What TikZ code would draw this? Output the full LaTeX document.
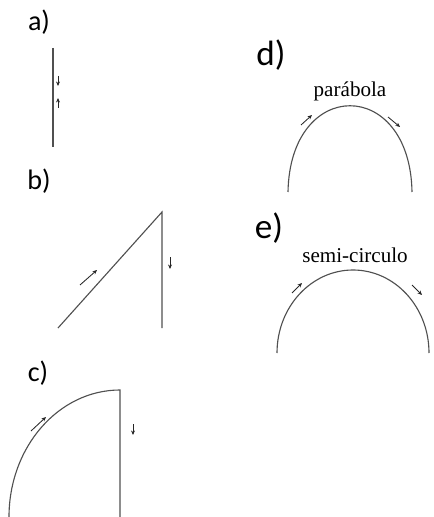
\documentclass[tikz,border=0pt]{standalone}
\usepackage{fontspec}
\setmainfont{Liberation Serif}
\newfontfamily\labelfont{Carlito}
\usetikzlibrary{arrows.meta}
\definecolor{CurveColor}{RGB}{80,80,80}
\tikzset{
  curve/.style={draw=CurveColor,line width=0.8pt},
  motion/.style={draw=black!85,line width=0.6pt,-{Stealth[length=3.2pt,width=2.8pt]}},
  caselabel/.style={font=\labelfont\fontsize{20}{20}\selectfont},
  biglabel/.style={font=\labelfont\fontsize{25}{25}\selectfont},
  namelabel/.style={font=\fontsize{15}{15}\selectfont,anchor=base}
}

\begin{document}
\begin{tikzpicture}[x=0.025cm,y=-0.025cm]
\useasboundingbox (0,0) rectangle (433,517);

% case labels
\foreach \lab/\x/\y in {a/39/22,b/39/181,c/38/373}{
    \node[caselabel] (lab\lab) at (\x,\y) {\lab)};
}
\foreach \lab/\x/\y in {d/271/55,e/269/228}{
    \node[biglabel] (lab\lab) at (\x,\y) {\lab)};
}

% a) vertical throw
\draw[curve] (53,48) -- (53,147);
\draw[motion] (58,76) -- (58,86);
\draw[motion] (58,108) -- (58,98);

% b) ramp
\draw[curve] (58,328) -- (162,212) -- (162,328);
\draw[motion] (80,285) -- (97,270);
\draw[motion] (170,257) -- (170,269);

% c) quarter arc
\draw[curve] (9,517) arc[start angle=180,end angle=90,x radius=111,y radius=-127]
    -- (120,517);
\draw[motion] (31,431) -- (46,417);
\draw[motion] (133,424) -- (133,435);

% d) parabola
\draw[curve] (288,192) .. controls (290,77) and (410,77) .. (412,192);
\node[namelabel] (parabola) at (350,97) {parábola};
\draw[motion] (301,125) -- (312,115);
\draw[motion] (388,117) -- (400,127);

% e) half circle
\draw[curve] (277,353) arc[start angle=180,end angle=0,x radius=76,y radius=-83];
\node[namelabel] (semicirculo) at (355,262) {semi-circulo};
\draw[motion] (292,293) -- (302,283);
\draw[motion] (412,285) -- (422,295);
\end{tikzpicture}
\end{document}
